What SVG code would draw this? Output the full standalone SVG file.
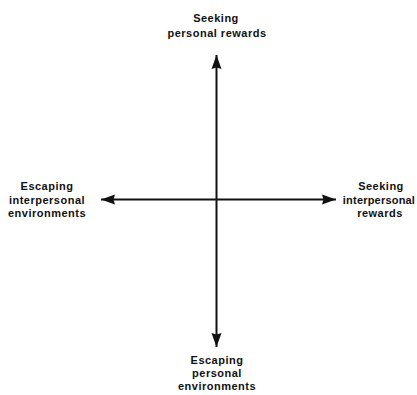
<svg xmlns="http://www.w3.org/2000/svg" width="417" height="395" viewBox="0 0 417 395">
<style>
.lbl{font-family:"Liberation Sans",Arial,sans-serif;font-size:11px;font-weight:bold;fill:#111;text-anchor:middle;letter-spacing:0.5px}
.ax{stroke:#111;stroke-width:2;fill:none}
</style>
<defs>
<marker id="ah" markerUnits="userSpaceOnUse" markerWidth="16" markerHeight="12" refX="14" refY="5.5" orient="auto">
<path d="M0,0.5 L14,5.5 L0,10.5 L1.5,5.5 Z" fill="#111"/>
</marker>
</defs>
<rect width="417" height="395" fill="#fff"/>
<g id="connectors">
<line class="ax" x1="216.5" y1="199.5" x2="216.5" y2="55" marker-end="url(#ah)"/>
<line class="ax" x1="216.5" y1="199.5" x2="216.5" y2="347" marker-end="url(#ah)"/>
<line class="ax" x1="216.5" y1="199.5" x2="101" y2="199.5" marker-end="url(#ah)"/>
<line class="ax" x1="216.5" y1="199.5" x2="336" y2="199.5" marker-end="url(#ah)"/>
</g>
<g id="top">
<text class="lbl" x="216" y="22">Seeking</text>
<text class="lbl" x="217" y="37">personal rewards</text>
</g>
<g id="left">
<text class="lbl" x="47" y="190">Escaping</text>
<text class="lbl" x="47" y="203.5">interpersonal</text>
<text class="lbl" x="47" y="217">environments</text>
</g>
<g id="right">
<text class="lbl" x="381" y="190">Seeking</text>
<text class="lbl" x="379" y="203.5" style="letter-spacing:0.2px">interpersonal</text>
<text class="lbl" x="380" y="217">rewards</text>
</g>
<g id="bottom">
<text class="lbl" x="217" y="364">Escaping</text>
<text class="lbl" x="217" y="377">personal</text>
<text class="lbl" x="217" y="390">environments</text>
</g>
</svg>
